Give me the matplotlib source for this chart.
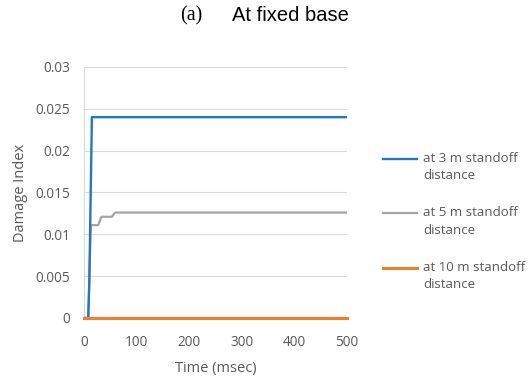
import matplotlib.pyplot as plt

# time axis (msec) and damage index for each standoff distance
t_3m = [0, 8, 10, 15, 500]
d_3m = [0, 0, 0.004, 0.024, 0.024]

t_5m = [0, 8, 13, 27, 33, 53, 59, 500]
d_5m = [0, 0, 0.0111, 0.0111, 0.0121, 0.0121, 0.0126, 0.0126]

t_10m = [0, 500]
d_10m = [0, 0]

# leading blank line puts the legend line next to the first text line (like Excel)
labels = ['\nat 3 m standoff\ndistance', '\nat 5 m standoff\ndistance', '\nat 10 m standoff\ndistance']
colors = ['#1f77c9', '#a5a5a5', '#f07f2c']

yticks = [0, 0.005, 0.01, 0.015, 0.02, 0.025, 0.03]
ytick_labels = ['0', '0.005', '0.01', '0.015', '0.02', '0.025', '0.03']
xticks = [0, 100, 200, 300, 400, 500]

txt = '#595959'
font = 'Open Sans'

fig = plt.figure(figsize=(5.31, 3.80), dpi=100)
ax = fig.add_axes([0.1582, 0.1632, 0.4953, 0.6605])

ax.plot(t_5m, d_5m, color=colors[1], lw=1.6, label=labels[1], zorder=3)
ax.plot(t_3m, d_3m, color=colors[0], lw=1.7, label=labels[0], zorder=4)
ax.plot(t_10m, d_10m, color=colors[2], lw=2.2, label=labels[2], zorder=5, clip_on=False)

ax.set_xlim(0, 500)
ax.set_ylim(0, 0.03)
ax.set_yticks(yticks)
ax.set_yticklabels(ytick_labels)
ax.set_xticks(xticks)
ax.grid(axis='y', color='#d9d9d9', lw=0.8)
ax.set_axisbelow(True)

for s in ['top', 'right', 'bottom']:
    ax.spines[s].set_visible(False)
ax.spines['left'].set_color('#d9d9d9')
ax.tick_params(length=0, labelcolor=txt, labelsize=9.8)
ax.tick_params(axis='y', pad=10)
ax.tick_params(axis='x', pad=12)
for lab in ax.get_xticklabels() + ax.get_yticklabels():
    lab.set_fontfamily(font)

ax.set_xlabel('Time (msec)', fontsize=10.5, color=txt, fontfamily=font, labelpad=8)
ax.set_ylabel('Damage Index', fontsize=10.5, color=txt, fontfamily=font, labelpad=5)

handles, labs = ax.get_legend_handles_labels()
order = [1, 0, 2]
leg = fig.legend([handles[i] for i in order], [labs[i] for i in order],
                 loc='upper left', bbox_to_anchor=(0.699, 0.678), frameon=False,
                 prop={'family': font, 'size': 9.5}, labelcolor=txt,
                 handlelength=2.6, handletextpad=0.45, labelspacing=0.5)
for t in leg.get_texts():
    t.set_linespacing(1.45)

fig.text(0.339, 0.958, '(a)', fontsize=14.5, fontfamily='Liberation Serif', va='center')
fig.text(0.437, 0.958, 'At fixed base', fontsize=14.5, fontfamily='Liberation Sans', va='center')

fig.savefig('out.png', dpi=100)
